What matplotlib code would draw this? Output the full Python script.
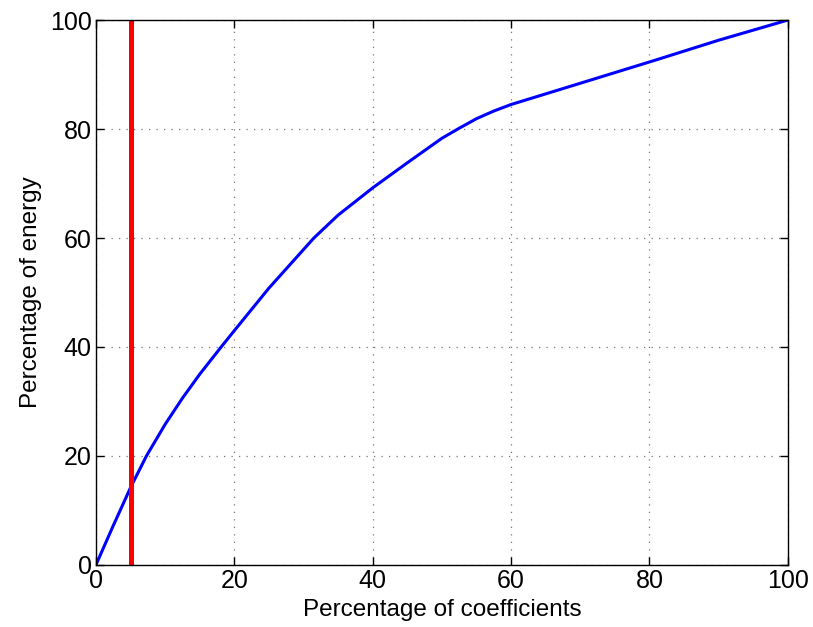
import matplotlib
matplotlib.use("Agg")
import matplotlib.pyplot as plt

# Energy kept as a function of the fraction of coefficients retained
coef_pct = [0, 2.5, 5, 7.3, 10, 12.5, 15, 18.1, 20, 25, 31.5, 35, 40, 45, 50, 52.3,
            55, 57.5, 60, 70, 81, 90, 100]
energy_pct = [0, 7.2, 14.2, 20, 25.8, 30.6, 35, 40, 43, 50.8, 60, 64.2, 69.2, 73.8, 78.3, 80,
              81.9, 83.3, 84.5, 88.4, 92.7, 96.3, 100]
threshold = 5

plt.rcParams['font.family'] = ['Liberation Sans', 'DejaVu Sans']

fig = plt.figure(figsize=(8.13, 6.27), dpi=100)
ax = fig.add_axes([0.118, 0.099, 0.851, 0.869])

ax.plot(coef_pct, energy_pct, color="blue", linewidth=2.2, solid_joinstyle="round")
ax.axvline(threshold, color="red", linewidth=3.6)

ax.set_xlim(0, 100)
ax.set_ylim(0, 100)
ax.set_xticks(range(0, 101, 20))
ax.set_yticks(range(0, 101, 20))
ax.grid(True, linestyle=(0, (1, 5)), color="#777777", linewidth=0.9)
ax.tick_params(direction="in", top=True, right=True, labelsize=18, length=6, width=1, pad=3)
for s in ax.spines.values():
    s.set_linewidth(1)

ax.set_xlabel("Percentage of coefficients", fontsize=17.5, labelpad=4)
ax.set_ylabel("Percentage of energy", fontsize=17.5, labelpad=6)

fig.savefig("out.png", dpi=100)
